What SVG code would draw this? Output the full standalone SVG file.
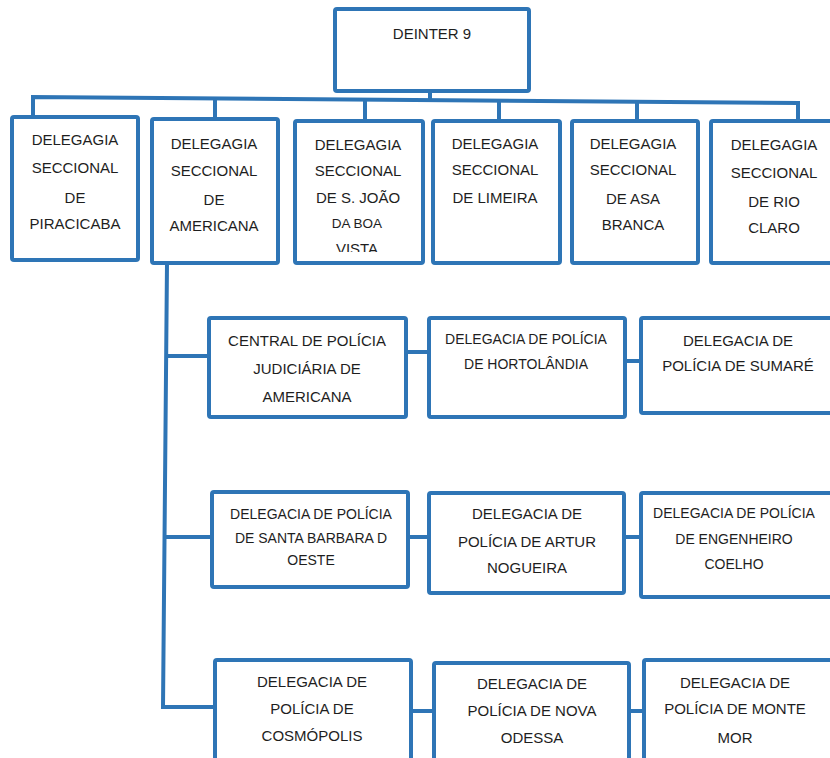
<svg xmlns="http://www.w3.org/2000/svg" width="830" height="758" viewBox="0 0 830 758">
<defs>
<style>
.box{fill:#fff;stroke:#2E75B6;stroke-width:4;stroke-linejoin:round}
.ln{fill:none;stroke:#2E75B6;stroke-width:4;stroke-linejoin:miter}
text{font-family:"Liberation Sans",Arial,sans-serif;font-size:15px;fill:#1e1e1e;text-anchor:middle}
.sm{font-size:13.5px}
.nw{font-size:14px}
</style>
<clipPath id="clipSJ"><rect x="297" y="123" width="124" height="129"/></clipPath>
</defs>
<rect width="830" height="758" fill="#fff"/>
<g id="connectors">
<path class="ln" d="M430,91 V100"/>
<path class="ln" d="M33,119 V97 L798,103 V121"/>
<path class="ln" d="M215,98.6 V119"/>
<path class="ln" d="M365,99.6 V121"/>
<path class="ln" d="M499,100.6 V121"/>
<path class="ln" d="M637,101.7 V121"/>
<path class="ln" d="M167,263 L163,707 H215"/>
<path class="ln" d="M165,356 H209"/>
<path class="ln" d="M164,537 H212"/>
<path class="ln" d="M406,352 H429"/>
<path class="ln" d="M625,361 H641"/>
<path class="ln" d="M408,537 H429"/>
<path class="ln" d="M624,537 H641"/>
<path class="ln" d="M411,711 H434"/>
<path class="ln" d="M629,711 H644"/>
</g>
<g id="deinter">
<rect class="box" x="335" y="9" width="194" height="82" rx="2"/>
<text x="432" y="39">DEINTER 9</text>
</g>
<g id="piracicaba">
<rect class="box" x="12" y="117" width="126" height="143" rx="2"/>
<text x="75" y="145">DELEGAGIA</text>
<text x="75" y="173">SECCIONAL</text>
<text x="75" y="203">DE</text>
<text x="75" y="229">PIRACICABA</text>
</g>
<g id="americana">
<rect class="box" x="152" y="119" width="126" height="144" rx="2"/>
<text x="214" y="149">DELEGAGIA</text>
<text x="214" y="176">SECCIONAL</text>
<text x="214" y="205">DE</text>
<text x="214" y="231">AMERICANA</text>
</g>
<g id="sjoao">
<rect class="box" x="295" y="121" width="128" height="142" rx="2"/>
<text x="358" y="150">DELEGAGIA</text>
<text x="358" y="176">SECCIONAL</text>
<text x="358" y="203">DE S. JOÃO</text>
<text class="sm" x="357" y="228">DA BOA</text>
<text x="357" y="254" clip-path="url(#clipSJ)">VISTA</text>
</g>
<g id="limeira">
<rect class="box" x="433" y="121" width="127" height="142" rx="2"/>
<text x="495" y="149">DELEGAGIA</text>
<text x="495" y="175">SECCIONAL</text>
<text x="495" y="203">DE LIMEIRA</text>
</g>
<g id="asabranca">
<rect class="box" x="572" y="121" width="126" height="142" rx="2"/>
<text x="633" y="149">DELEGAGIA</text>
<text x="633" y="175">SECCIONAL</text>
<text x="633" y="204">DE ASA</text>
<text x="633" y="230">BRANCA</text>
</g>
<g id="rioclaro">
<rect class="box" x="711" y="121" width="125" height="142" rx="2"/>
<text x="774" y="150">DELEGAGIA</text>
<text x="774" y="178">SECCIONAL</text>
<text x="774" y="207">DE RIO</text>
<text x="774" y="233">CLARO</text>
</g>
<g id="central">
<rect class="box" x="209" y="318" width="197" height="99" rx="2"/>
<text x="307" y="346">CENTRAL DE POLÍCIA</text>
<text x="307" y="374">JUDICIÁRIA DE</text>
<text x="307" y="402">AMERICANA</text>
</g>
<g id="hortolandia">
<rect class="box" x="429" y="318" width="196" height="99" rx="2"/>
<text class="nw" x="526" y="344">DELEGACIA DE POLÍCIA</text>
<text class="nw" x="526" y="369">DE HORTOLÂNDIA</text>
</g>
<g id="sumare">
<rect class="box" x="641" y="318" width="195" height="95" rx="2"/>
<text x="738" y="346">DELEGACIA DE</text>
<text x="738" y="371">POLÍCIA DE SUMARÉ</text>
</g>
<g id="santabarbara">
<rect class="box" x="212" y="492" width="196" height="95" rx="2"/>
<text class="nw" x="311" y="519">DELEGACIA DE POLÍCIA</text>
<text class="nw" x="311" y="543">DE SANTA BARBARA D</text>
<text class="nw" x="311" y="565">OESTE</text>
</g>
<g id="artur">
<rect class="box" x="429" y="493" width="195" height="100" rx="2"/>
<text x="527" y="519">DELEGACIA DE</text>
<text x="527" y="547">POLÍCIA DE ARTUR</text>
<text x="527" y="573">NOGUEIRA</text>
</g>
<g id="engenheiro">
<rect class="box" x="641" y="493" width="195" height="104" rx="2"/>
<text class="nw" x="734" y="518">DELEGACIA DE POLÍCIA</text>
<text class="nw" x="734" y="544">DE ENGENHEIRO</text>
<text class="nw" x="734" y="569">COELHO</text>
</g>
<g id="cosmopolis">
<rect class="box" x="215" y="660" width="196" height="105" rx="2"/>
<text x="312" y="687">DELEGACIA DE</text>
<text x="312" y="714">POLÍCIA DE</text>
<text x="312" y="741">COSMÓPOLIS</text>
</g>
<g id="novaodessa">
<rect class="box" x="434" y="663" width="195" height="102" rx="2"/>
<text x="532" y="689">DELEGACIA DE</text>
<text x="532" y="716">POLÍCIA DE NOVA</text>
<text x="532" y="743">ODESSA</text>
</g>
<g id="montemor">
<rect class="box" x="644" y="660" width="192" height="105" rx="2"/>
<text x="735" y="688">DELEGACIA DE</text>
<text x="735" y="714">POLÍCIA DE MONTE</text>
<text x="735" y="743">MOR</text>
</g>
</svg>
